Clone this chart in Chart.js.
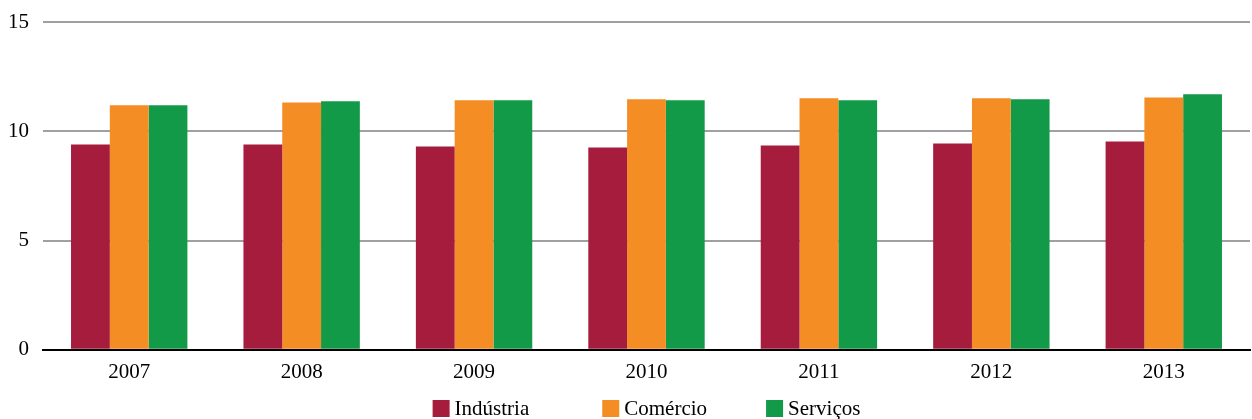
<!DOCTYPE html>
<html>
<head>
<meta charset="utf-8">
<script src="https://cdn.jsdelivr.net/npm/chart.js@4/dist/chart.umd.min.js"></script>
<style>
  html, body { margin: 0; padding: 0; background: #ffffff; }
  canvas { display: block; }
</style>
</head>
<body>
<canvas id="chart" width="1252" height="419"></canvas>
<script>
// Anos e séries
const anos = ['2007', '2008', '2009', '2010', '2011', '2012', '2013'];
const industria = [9.39, 9.39, 9.30, 9.26, 9.35, 9.44, 9.53];
const comercio  = [11.19, 11.32, 11.42, 11.46, 11.51, 11.51, 11.55];
const servicos  = [11.19, 11.37, 11.42, 11.42, 11.42, 11.46, 11.69];
const yTicks = [0, 5, 10, 15];

const serif = "'Liberation Serif', 'Times New Roman', serif";

// Legenda desenhada no rodapé, centrada sobre a área do gráfico
const bottomLegend = {
  id: 'bottomLegend',
  afterDraw(chart, args, opts) {
    const ctx = chart.ctx;
    const area = chart.chartArea;
    const box = opts.boxSize;
    ctx.save();
    ctx.font = opts.fontSize + 'px ' + serif;
    ctx.textBaseline = 'middle';
    ctx.textAlign = 'left';
    const items = chart.data.datasets.map(ds => ({
      text: ds.label,
      color: ds.backgroundColor,
      width: box + opts.textGap + ctx.measureText(ds.label).width
    }));
    const total = items.reduce((s, it) => s + it.width, 0) +
      opts.gaps.slice(0, items.length - 1).reduce((s, g) => s + g, 0);
    let x = (area.left + area.right) / 2 - total / 2;
    const yc = opts.y;
    items.forEach((it, i) => {
      ctx.fillStyle = it.color;
      ctx.fillRect(x, yc - box / 2, box, box);
      ctx.fillStyle = '#000';
      ctx.fillText(it.text, x + box + opts.textGap, yc + 1);
      x += it.width + (opts.gaps[i] || 0);
    });
    ctx.restore();
  }
};

new Chart(document.getElementById('chart'), {
  type: 'bar',
  data: {
    labels: anos,
    datasets: [
      { label: 'Indústria', data: industria, backgroundColor: '#a51c3c' },
      { label: 'Comércio',  data: comercio,  backgroundColor: '#f38d24' },
      { label: 'Serviços',  data: servicos,  backgroundColor: '#139a48' }
    ]
  },
  plugins: [bottomLegend],
  options: {
    responsive: false,
    animation: false,
    layout: { padding: { left: 0, right: 2, top: 22, bottom: 32 } },
    datasets: {
      bar: { categoryPercentage: 0.675, barPercentage: 1.0, borderWidth: 0 }
    },
    plugins: {
      tooltip: { enabled: false },
      legend: { display: false },
      bottomLegend: { boxSize: 17, textGap: 5, fontSize: 21, gaps: [73, 59], y: 408.5 }
    },
    scales: {
      x: {
        grid: { display: false },
        border: { display: true, color: '#000', width: 2 },
        ticks: { color: '#000', font: { family: serif, size: 21 }, padding: 2 }
      },
      y: {
        min: 0,
        max: 15,
        afterBuildTicks: (axis) => { axis.ticks = yTicks.map(v => ({ value: v })); },
        afterFit: (axis) => {
          axis.width = 43;
          axis.paddingTop = 0;
          axis.paddingBottom = 0;
        },
        border: { display: false },
        grid: {
          drawTicks: false,
          lineWidth: 2,
          color: (ctx) => ctx.tick && ctx.tick.value === 0 ? '#000' : '#a09fa4'
        },
        ticks: { color: '#000', font: { family: serif, size: 21 }, padding: 14 }
      }
    }
  }
});
</script>
</body>
</html>
